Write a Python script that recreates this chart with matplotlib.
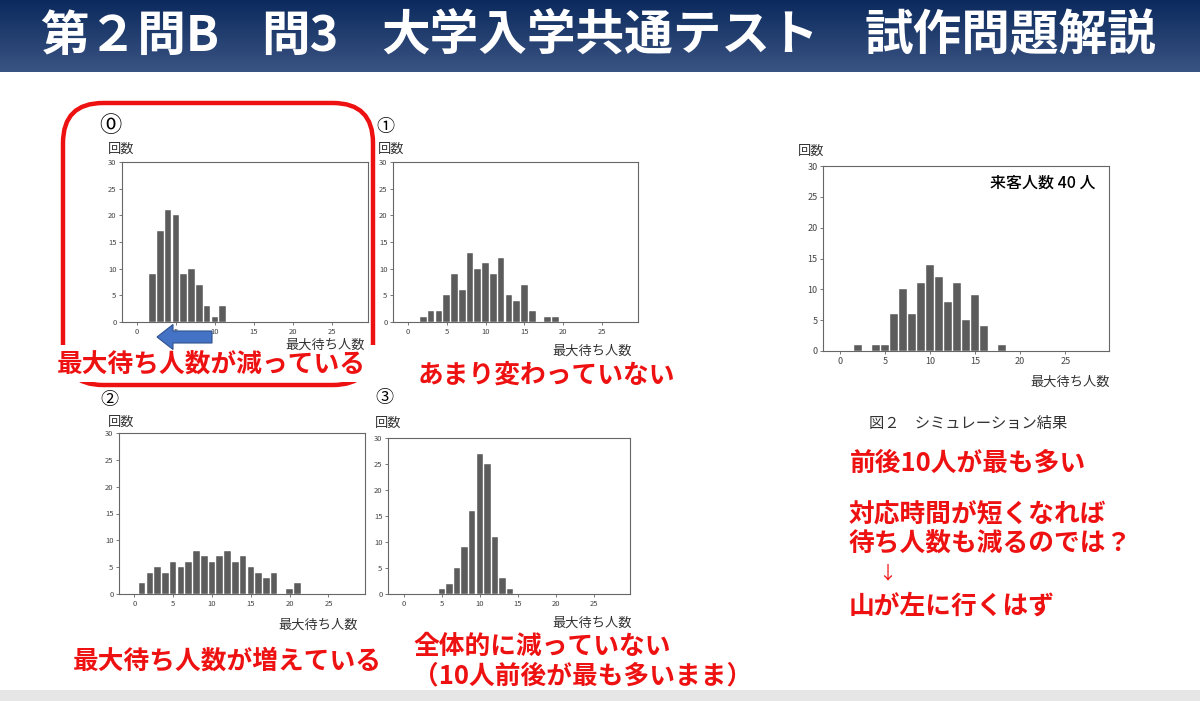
import matplotlib
matplotlib.use('Agg')
import matplotlib.pyplot as plt
import numpy as np
from matplotlib.patches import FancyBboxPatch, Rectangle, FancyArrow
from matplotlib.colors import LinearSegmentedColormap
from matplotlib.transforms import Affine2D

plt.rcParams['font.family'] = ['Noto Sans CJK JP', 'DejaVu Sans']

W, H = 1200, 701

# histogram data (x = 最大待ち人数, y = 回数)
x0 = [2, 3, 4, 5, 6, 7, 8, 9, 10, 11]
y0 = [9, 17, 21, 20, 9, 10, 7, 3, 1, 3]
x1 = [2, 3, 4, 5, 6, 7, 8, 9, 10, 11, 12, 13, 14, 15, 16, 18, 19]
y1 = [1, 2, 2, 5, 9, 6, 13, 10, 11, 9, 12, 5, 4, 7, 2, 1, 1]
x2 = [1, 2, 3, 4, 5, 6, 7, 8, 9, 10, 11, 12, 13, 14, 15, 16, 17, 18, 20, 21]
y2 = [2, 4, 5, 4, 6, 5, 6, 8, 7, 6, 7, 8, 6, 7, 5, 4, 3, 4, 1, 2]
x3 = [5, 6, 7, 8, 9, 10, 11, 12, 13, 14]
y3 = [1, 2, 5, 9, 16, 27, 25, 11, 3, 1]
xf = [2, 4, 5, 6, 7, 8, 9, 10, 11, 12, 13, 14, 15, 16, 18]
yf = [1, 1, 1, 6, 10, 6, 11, 14, 12, 8, 11, 5, 9, 4, 1]

xticks = [0, 5, 10, 15, 20, 25]
yticks = [0, 5, 10, 15, 20, 25, 30]

fig = plt.figure(figsize=(12, 7.01), dpi=100)
fig.patch.set_facecolor('white')
# pixel coords, origin top-left
pix = Affine2D().scale(1 / 100, -1 / 100).translate(0, 7.01) + fig.dpi_scale_trans

# title bar
tb = fig.add_axes([0, 1 - 72 / H, 1, 72 / H])
grad = np.linspace(0, 1, 100).reshape(-1, 1)
cmap = LinearSegmentedColormap.from_list('bar', ['#0c2a5e', '#3a5482'])
tb.imshow(grad, aspect='auto', cmap=cmap, extent=[0, 1, 0, 1], origin='upper')
tb.axis('off')
for s, cx in [('第２問B', 130), ('問3', 300), ('大学入学共通テスト', 600), ('試作問題解説', 1010)]:
    fig.text(cx, 36, s, transform=pix, ha='center', va='center',
             fontsize=35, fontweight='bold', color='white')

# bottom strip
fig.add_artist(Rectangle((0, 690), W, 11, transform=pix, facecolor='#e6e6e6', edgecolor='none'))


def hist_axes(box, xs, ys, xlim, tick_size=5.5):
    l, t, r, b = box
    ax = fig.add_axes([l / W, 1 - b / H, (r - l) / W, (b - t) / H])
    ax.bar(xs, ys, width=0.85, color='#5c5c5c', edgecolor='white', linewidth=0.3)
    ax.set_xlim(*xlim)
    ax.set_ylim(0, 30)
    ax.set_xticks(xticks)
    ax.set_yticks(yticks)
    ax.tick_params(labelsize=tick_size, length=2, width=0.5, colors='#444', pad=2)
    for sp in ax.spines.values():
        sp.set_color('#666')
        sp.set_linewidth(0.8)
    return ax


hist_axes((122, 162, 368, 322), x0, y0, (-1.9, 29.6))
hist_axes((393, 162, 638, 322), x1, y1, (-1.9, 29.6))
hist_axes((119, 433, 365, 594), x2, y2, (-1.97, 29.7))
hist_axes((388, 438, 630, 594), x3, y3, (-2.1, 29.8))
hist_axes((823, 166, 1109, 351), xf, yf, (-1.85, 29.85), tick_size=6.5)

# small labels
lab = dict(transform=pix, color='#333', fontsize=9.5)
# ⓪ comes from DejaVu (smaller glyph), so give it a larger size
for cx, cy, s, fs in [(110, 126, '⓪', 16), (385, 127, '①', 13), (109, 400, '②', 13), (384, 398, '③', 13)]:
    fig.text(cx, cy, s, transform=pix, ha='center', va='center', fontsize=fs, color='black')
for x, y in [(108, 149), (378, 149), (108, 422), (375, 423), (798, 151)]:
    fig.text(x, y, '回数', ha='left', va='center', **lab)
for x, y in [(365, 345), (632, 351), (358, 625), (632, 623), (1110, 382)]:
    fig.text(x, y, '最大待ち人数', ha='right', va='center', **lab)
fig.text(1043, 183, '来客人数 40 人', transform=pix, ha='center', va='center',
         fontsize=11.5, fontweight='medium', color='black')
fig.text(968, 423, '図２　シミュレーション結果', transform=pix, ha='center', va='center',
         fontsize=11, color='#333')

# red frame around ⓪
fig.add_artist(FancyBboxPatch((63, 103), 310, 282, boxstyle='round,pad=0,rounding_size=40',
                              transform=pix, facecolor='none', edgecolor='#ee1111', linewidth=3.2))
fig.add_artist(Rectangle((48, 345), 336, 37, transform=pix, facecolor='white', edgecolor='none'))
fig.add_artist(FancyArrow(212, 337, -55, 0, width=12, head_width=25, head_length=16,
                          length_includes_head=True, transform=pix,
                          facecolor='#4472c4', edgecolor='#2f528f', linewidth=0.8))

red = dict(transform=pix, color='#ee1111', fontsize=18.5, fontweight='bold', va='center')
fig.text(57, 365, '最大待ち人数が減っている', ha='left', **red)
fig.text(418, 375, 'あまり変わっていない', ha='left', **red)
fig.text(73, 661, '最大待ち人数が増えている', ha='left', **red)
fig.text(413, 646, '全体的に減っていない', ha='left', **red)
fig.text(413, 676, '（10人前後が最も多いまま）', ha='left', **red)
fig.text(850, 463, '前後10人が最も多い', ha='left', **red)
fig.text(849, 515, '対応時間が短くなれば', ha='left', **red)
fig.text(849, 544, '待ち人数も減るのでは？', ha='left', **red)
fig.text(887, 573, '↓', transform=pix, color='#ee1111', fontsize=13, ha='center', va='center')
fig.text(849, 606, '山が左に行くはず', ha='left', **red)

fig.savefig('out.png', dpi=100)
